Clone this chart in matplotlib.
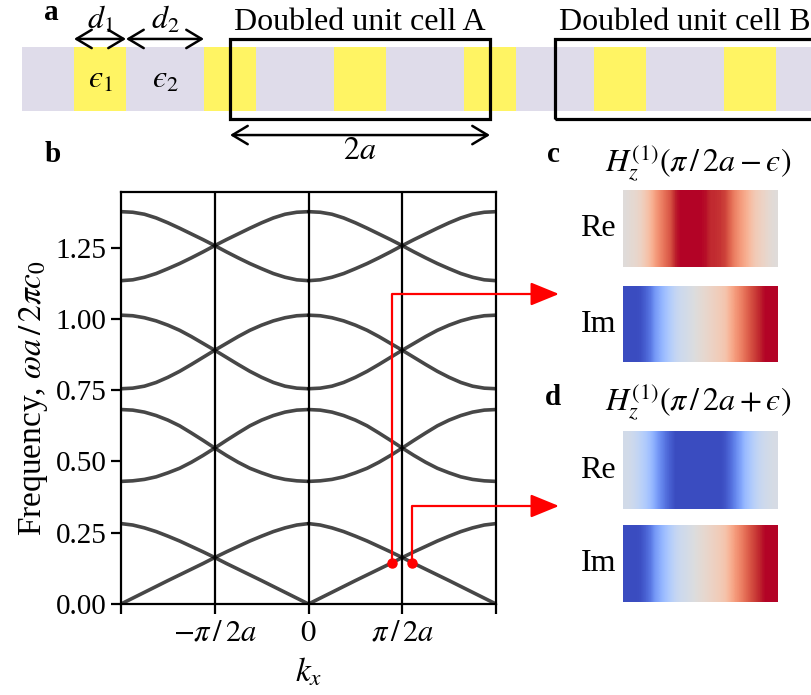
import numpy as np
import matplotlib
matplotlib.use("Agg")
import matplotlib.pyplot as plt
from matplotlib.patches import Rectangle

plt.rcParams['font.family'] = ['Liberation Serif', 'DejaVu Serif']
plt.rcParams['mathtext.fontset'] = 'stix'

# ---- layered structure (lengths in units of a) ----
d1 = 0.4
d2 = 0.6
n_cells = 6
yellow = '#fff463'
lavender = '#dfdcea'

# ---- bands: omega*a/(2 pi c0) sampled at q = 0 .. pi/a (in units of pi/a) ----
q_samples = [0.0, 0.0625, 0.125, 0.1875, 0.25, 0.3125, 0.375, 0.4375, 0.5,
             0.5625, 0.625, 0.6875, 0.75, 0.8125, 0.875, 0.9375, 1.0]
band1 = [0.000, 0.0205, 0.041, 0.0615, 0.082, 0.102, 0.122, 0.142, 0.163,
         0.183, 0.202, 0.221, 0.238, 0.254, 0.267, 0.277, 0.282]
band2 = [0.682, 0.680, 0.673, 0.661, 0.645, 0.625, 0.600, 0.574, 0.547,
         0.521, 0.497, 0.476, 0.460, 0.446, 0.437, 0.432, 0.430]
band3 = [0.755, 0.757, 0.764, 0.777, 0.795, 0.816, 0.840, 0.865, 0.890,
         0.914, 0.938, 0.960, 0.978, 0.993, 1.004, 1.011, 1.013]
band4 = [1.376, 1.374, 1.367, 1.354, 1.337, 1.318, 1.298, 1.278, 1.257,
         1.235, 1.214, 1.194, 1.176, 1.159, 1.146, 1.137, 1.134]
bands = [band1, band2, band3, band4]

# marked states either side of k = pi/2a
k_marks = [0.443, 0.553]
w_marks = [0.144, 0.144]

# ---- field profiles across the doubled cell (normalised H_z) ----
c_re = [0.02, 0.05, 0.08, 0.13, 0.22, 0.33, 0.48, 0.6, 0.7, 0.8, 0.95, 1.0, 1.0, 1.0,
        1.0, 1.0, 0.98, 0.93, 0.92, 0.9, 0.85, 0.72, 0.6, 0.5, 0.4, 0.3, 0.2, 0.15,
        0.1, 0.05, 0.02]
c_im = [-1.0, -1.0, -1.0, -0.98, -0.9, -0.8, -0.62, -0.5, -0.38, -0.28, -0.18, -0.12,
        -0.08, -0.04, 0.0, 0.04, 0.08, 0.12, 0.16, 0.2, 0.25, 0.38, 0.5, 0.6, 0.7, 0.8,
        0.88, 0.95, 1.0, 1.0, 1.0]
d_re = [-0.08, -0.1, -0.15, -0.22, -0.3, -0.4, -0.55, -0.7, -0.82, -0.92, -1.0, -1.0,
        -1.0, -1.0, -1.0, -1.0, -1.0, -1.0, -1.0, -1.0, -0.95, -0.85, -0.72, -0.58,
        -0.42, -0.32, -0.22, -0.15, -0.1, -0.07, -0.05]
d_im = [-1.0, -1.0, -1.0, -0.98, -0.9, -0.8, -0.62, -0.5, -0.38, -0.28, -0.18, -0.12,
        -0.08, -0.04, 0.0, 0.04, 0.08, 0.12, 0.16, 0.2, 0.26, 0.38, 0.5, 0.6, 0.7, 0.8,
        0.88, 0.95, 1.0, 1.0, 1.0]

W, H = 811, 695
fig = plt.figure(figsize=(W / 100, H / 100), dpi=100)


def px_box(x0, y0, x1, y1):
    # pixel box (top-left origin) -> figure fraction rect
    return [x0 / W, 1 - y1 / H, (x1 - x0) / W, (y1 - y0) / H]


fs = 21     # tick labels
fl = 23     # labels and annotations
eps = '\u03f5'

# ================= panel a =================
axa = fig.add_axes(px_box(0, 0, W, 165))
axa.set_xlim(-74 / 130, 737 / 130)
axa.set_ylim(-54 / 130, 111 / 130)
axa.axis('off')
strip_h = 64 / 130

axa.bar(-d2 + 0.2, strip_h, width=d2 - 0.2, align='edge', color=lavender, lw=0)
for n in range(n_cells):
    axa.bar(n, strip_h, width=d1, align='edge', color=yellow, lw=0)
    axa.bar(n + d1, strip_h, width=d2, align='edge', color=lavender, lw=0)

pad = 0.062
for x0 in [1 + d1 / 2, 3 + d1 + d2 / 2]:
    axa.add_patch(Rectangle((x0, -pad), 2.0, strip_h + 2 * pad, fill=False,
                            ec='k', lw=2.3, zorder=3))

arr = dict(arrowstyle='<->,head_length=0.5,head_width=0.3', lw=1.8, color='k',
           mutation_scale=22, shrinkA=0, shrinkB=0)
y_arr = strip_h + pad
axa.annotate('', xy=(0, y_arr), xytext=(d1, y_arr), arrowprops=arr)
axa.annotate('', xy=(d1, y_arr), xytext=(1.0, y_arr), arrowprops=arr)
axa.annotate('', xy=(1 + d1 / 2, -0.185), xytext=(3 + d1 / 2, -0.185), arrowprops=arr)

axa.text(d1 / 2, 0.70, '$d_1$', ha='center', va='center', fontsize=fl)
axa.text(d1 + d2 / 2, 0.70, '$d_2$', ha='center', va='center', fontsize=fl)
axa.text(d1 / 2, 0.235, '$' + eps + '_1$', ha='center', va='center', fontsize=fl)
axa.text(d1 + d2 / 2, 0.235, '$' + eps + '_2$', ha='center', va='center', fontsize=fl)
axa.text(2 + d1 / 2, 0.68, 'Doubled unit cell A', ha='center', va='center', fontsize=fl)
axa.text(4 + d1 + d2 / 2, 0.68, 'Doubled unit cell B', ha='center', va='center',
         fontsize=fl, clip_on=False)
axa.text(2 + d1 / 2, -0.31, '$2a$', ha='center', va='center', fontsize=fl)

# ================= panel b =================
ax = fig.add_axes(px_box(121, 192, 496, 604))
for w in bands:
    q = np.array(q_samples)
    w = np.array(w)
    for kk in [q, -q, 1 - q, q - 1]:
        ax.plot(kk, w, color='k', alpha=0.72, lw=2.6, solid_capstyle='round')

for xv in [-0.5, 0, 0.5]:
    ax.axvline(xv, color='k', lw=1.6)

ax.set_xlim(-1, 1)
ax.set_ylim(0, 1.445)
ax.set_xticks([-1, -0.5, 0, 0.5, 1])
ax.set_xticklabels(['', r'$-\pi\,/\,2a$', '$0$', r'$\pi\,/\,2a$', ''])
ax.set_yticks([0, 0.25, 0.5, 0.75, 1.0, 1.25])
ax.set_yticklabels(['%.2f' % v for v in [0, 0.25, 0.5, 0.75, 1.0, 1.25]])
ax.tick_params(direction='out', length=7, width=1.6, labelsize=fs)
ax.tick_params(axis='x', labelsize=fl - 1)
for s in ax.spines.values():
    s.set_linewidth(1.6)
ax.set_xlabel('$k_x$', fontsize=fl + 1, labelpad=6)
ax.set_ylabel(r'Frequency, $\omega a\,/\,2\pi c_0$', fontsize=fl + 1, labelpad=4)

red = '#ff0000'
ax.plot(k_marks, w_marks, 'o', color=red, ms=6.5, zorder=5, clip_on=False)
arrow_y = [294, 506]
for kx, wy, ty in zip(k_marks, w_marks, arrow_y):
    ax.annotate('', xy=(559 / W, 1 - ty / H), xycoords='figure fraction',
                xytext=(kx, wy), textcoords='data',
                arrowprops=dict(arrowstyle='-|>,head_length=1.1,head_width=0.45',
                                color=red, lw=1.6, shrinkA=0, shrinkB=0,
                                mutation_scale=16,
                                connectionstyle='angle,angleA=90,angleB=0,rad=0'),
                annotation_clip=False)

# ================= panels c, d =================
strips = [(c_re, 190, 267, 'Re'), (c_im, 286, 362, 'Im'),
          (d_re, 431, 509, 'Re'), (d_im, 525, 602, 'Im')]
for prof, y0, y1, lab in strips:
    axi = fig.add_axes(px_box(623, y0, 778, y1))
    axi.imshow(np.array(prof)[None, :], cmap='coolwarm', vmin=-1, vmax=1,
               aspect='auto', interpolation='bilinear')
    axi.axis('off')
    fig.text(616 / W, 1 - (y0 + y1) / 2 / H, lab, ha='right', va='center', fontsize=fl)

fig.text(698 / W, 1 - 163 / H, r'$H_z^{(1)}(\pi\,/\,2a-' + eps + ')$', ha='center',
         va='center', fontsize=fl)
fig.text(698 / W, 1 - 402 / H, r'$H_z^{(1)}(\pi\,/\,2a+' + eps + ')$', ha='center',
         va='center', fontsize=fl)

# panel letters
for lab, x, y in [('a', 51, 13), ('b', 53, 155), ('c', 553, 155), ('d', 553, 397)]:
    fig.text(x / W, 1 - y / H, lab, ha='center', va='center', fontsize=fl - 2,
             fontweight='bold')

fig.savefig('out.png', dpi=100)
